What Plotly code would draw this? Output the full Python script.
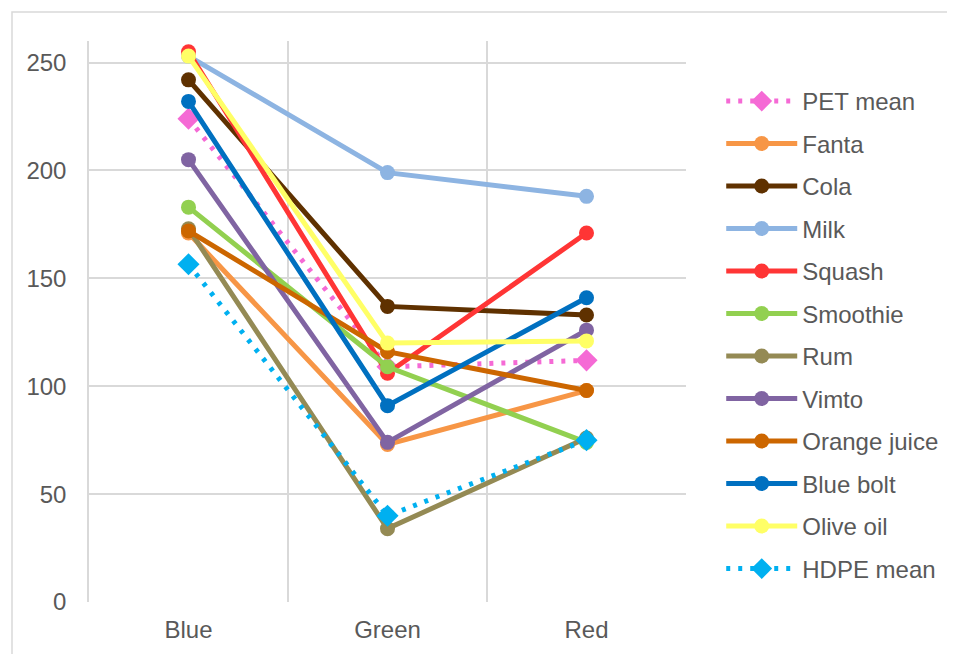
import plotly.graph_objects as go

categories = ["Blue", "Green", "Red"]

pet_mean = [224, 109, 112]
fanta = [171, 73, 98]
cola = [242, 137, 133]
milk = [253, 199, 188]
squash = [255, 106, 171]
smoothie = [183, 109, 74]
rum = [173, 34, 76]
vimto = [205, 74, 126]
orange_juice = [172, 116, 98]
blue_bolt = [232, 91, 141]
olive_oil = [253, 120, 121]
hdpe_mean = [156.5, 40, 75]

y_ticks = [0, 50, 100, 150, 200, 250]

series = [
    ("PET mean", pet_mean, "#F56AD5", "dot", "diamond"),
    ("Fanta", fanta, "#F79646", "solid", "circle"),
    ("Cola", cola, "#5F3100", "solid", "circle"),
    ("Milk", milk, "#8DB4E2", "solid", "circle"),
    ("Squash", squash, "#FF3535", "solid", "circle"),
    ("Smoothie", smoothie, "#92D050", "solid", "circle"),
    ("Rum", rum, "#948A54", "solid", "circle"),
    ("Vimto", vimto, "#8064A2", "solid", "circle"),
    ("Orange juice", orange_juice, "#CC6600", "solid", "circle"),
    ("Blue bolt", blue_bolt, "#0070C0", "solid", "circle"),
    ("Olive oil", olive_oil, "#FFFF66", "solid", "circle"),
    ("HDPE mean", hdpe_mean, "#00B0F0", "dot", "diamond"),
]

fig = go.Figure()
for i, (name, vals, color, dash, sym) in enumerate(series):
    fig.add_trace(go.Scatter(
        x=categories, y=vals, name=name, mode="lines+markers",
        legendgroup=f"g{i}",
        line=dict(color=color, width=5, dash=("4px,8px" if dash == "dot" else "solid")),
        marker=dict(color=color, size=(17 if sym == "diamond" else 15), symbol=sym,
                    line=dict(width=0)),
    ))

# plot area: 597 x 561 px
PW, PH = 597, 561
ML, MT = 81, 33
font_family = "Liberation Sans, Arial, sans-serif"
fig.update_layout(
    width=955, height=654,
    margin=dict(l=ML, r=955 - ML - PW, t=MT, b=654 - MT - PH),
    paper_bgcolor="white", plot_bgcolor="white",
    font=dict(family=font_family, size=24, color="#595959"),
    showlegend=True,
    legend=dict(
        x=1.059, xanchor="left", y=0.476, yanchor="middle",
        xref="paper", yref="paper",
        font=dict(size=24, color="#595959"),
        itemwidth=71, tracegroupgap=8.3,
        bgcolor="rgba(0,0,0,0)",
    ),
    xaxis=dict(
        type="category", tickson="boundaries", showgrid=True,
        range=[-0.5, 2.5], automargin=False,
        gridcolor="#D9D9D9", gridwidth=1.5, ticks="", showline=False,
        zeroline=False, ticklabelstandoff=11,
    ),
    yaxis=dict(
        range=[0, 260], tickvals=y_ticks, showgrid=True, automargin=False,
        gridcolor="#D9D9D9", gridwidth=1.5, zeroline=False,
        showline=True, linecolor="#D9D9D9", linewidth=1.5,
        ticks="", ticklabelstandoff=16,
    ),
    shapes=[dict(
        type="rect", xref="paper", yref="paper",
        x0=(12 - 89) / PW, x1=(960 - 89) / PW,
        y0=(602 - 660) / PH, y1=(602 - 12) / PH,
        line=dict(color="#D9D9D9", width=1.5), fillcolor="rgba(0,0,0,0)",
        layer="below",
    )],
)

fig.write_html("out.html")
